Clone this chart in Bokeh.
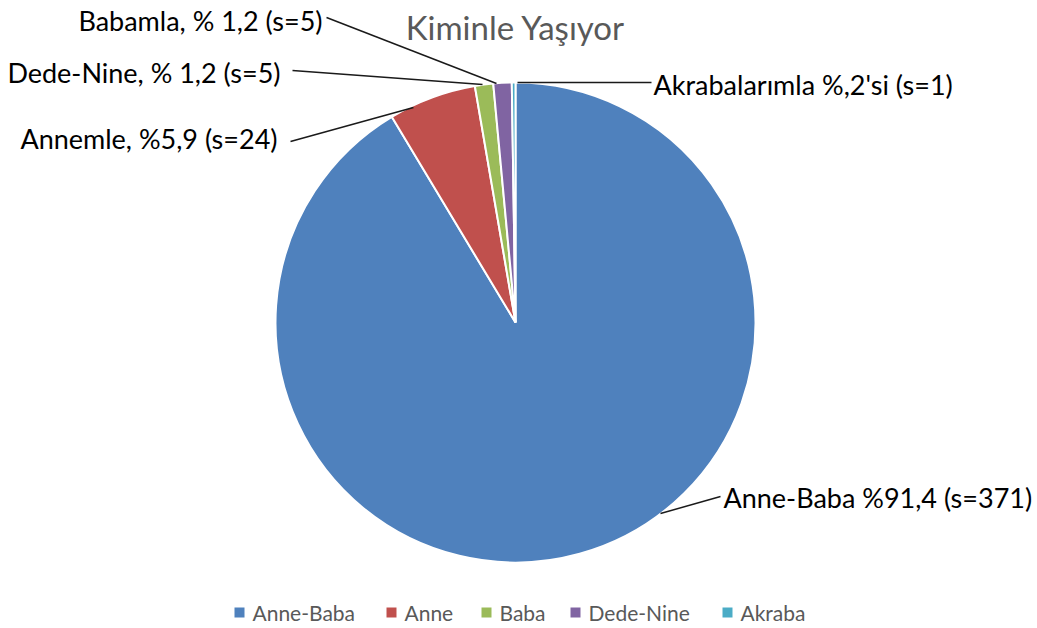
import numpy as np
from bokeh.plotting import figure
from bokeh.models import Range1d, ColumnDataSource
from bokeh.core.properties import value
from bokeh.embed import file_html
from bokeh.resources import INLINE

# ---- data ----
categories = ["Anne-Baba", "Anne", "Baba", "Dede-Nine", "Akraba"]
counts = [371, 24, 5, 5, 1]
colors = ["#4F81BD", "#C0504D", "#9BBB59", "#8064A2", "#4BACC6"]
label_texts = ["Anne-Baba %91,4 (s=371)", "Annemle, %5,9 (s=24)",
               "Babamla, % 1,2 (s=5)", "Dede-Nine, % 1,2 (s=5)",
               "Akrabalarımla %,2'si (s=1)"]
title_text = "Kiminle Yaşıyor"

# ---- layout (screenshot pixel coords -> data coords) ----
W, H = 1037, 628
def X(px):
    return px
def Y(py):
    return H - py

FONT = "Lato"
p = figure(width=W, height=H, x_range=Range1d(0, W), y_range=Range1d(0, H),
           output_backend="svg", toolbar_location=None, min_border=0)
p.axis.visible = False
p.grid.visible = False
p.outline_line_color = None
p.background_fill_color = "white"

# pie
total = float(sum(counts))
cum = np.cumsum([0] + counts) / total
starts = np.pi / 2 - 2 * np.pi * cum[:-1]
ends = np.pi / 2 - 2 * np.pi * cum[1:]
src = ColumnDataSource(dict(start=starts, end=ends, color=colors, cat=categories))
p.wedge(x=X(515), y=Y(322), radius=240, start_angle="start", end_angle="end",
        direction="clock", fill_color="color", line_color="white", line_width=2,
        source=src)

# title
p.text(x=[X(515)], y=[Y(26)], text=[title_text], text_align="center",
       text_baseline="middle", text_font=value(FONT), text_font_size="33px",
       text_color="#595959")

# data labels (text anchor, align, leader line from -> to)
lab_x = [X(723), X(277), X(322), X(280), X(653)]
lab_y = [Y(497), Y(138), Y(20), Y(72), Y(84)]
lab_align = ["left", "right", "right", "right", "left"]
line_xs = [[X(660), X(720)], [X(290), X(413)], [X(326), X(496)],
           [X(292), X(482)], [X(517), X(651)]]
line_ys = [[Y(513), Y(496)], [Y(141), Y(107)], [Y(17), Y(83)],
           [Y(70), Y(84)], [Y(82), Y(82)]]
p.multi_line(xs=line_xs, ys=line_ys, line_color="#1a1a1a", line_width=1.5)
p.text(x=lab_x, y=lab_y, text=label_texts, text_align=lab_align,
       text_baseline="middle", text_font=value(FONT), text_font_size="27px",
       text_color="#000000")

# legend
leg_marker_x = [X(239), X(391), X(486), X(575), X(727)]
leg_y = Y(612)
p.scatter(x=leg_marker_x, y=[leg_y] * 5, marker="square", size=10,
          fill_color=colors, line_color=None)
p.text(x=[x + 13 for x in leg_marker_x], y=[leg_y] * 5, text=categories,
       text_align="left", text_baseline="middle", text_font=value(FONT),
       text_font_size="21px", text_color="#595959")

open("out.html", "w").write(file_html(p, INLINE))
